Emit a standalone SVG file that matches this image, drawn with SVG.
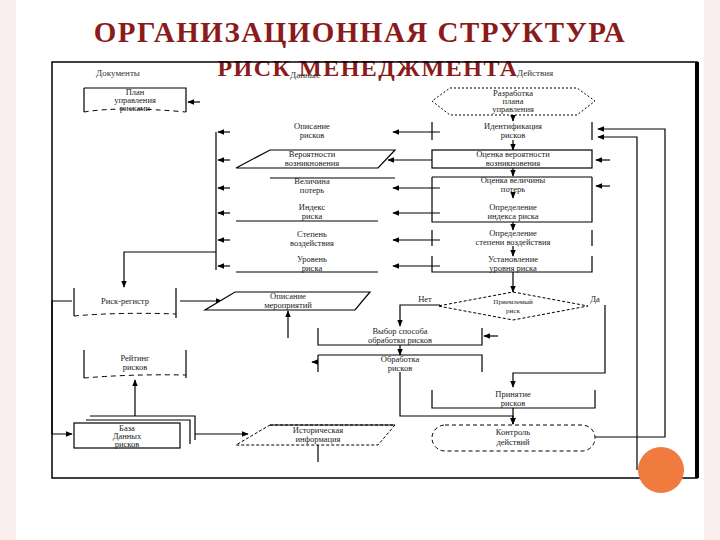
<svg xmlns="http://www.w3.org/2000/svg" width="720" height="540" viewBox="0 0 720 540">
<defs>
<marker id="a" viewBox="0 0 10 10" refX="9" refY="5" markerWidth="6" markerHeight="6" orient="auto"><path d="M0,1 L10,5 L0,9 z" fill="#000"/></marker>
<style>
.t{font-family:"Liberation Serif",serif;font-size:8.5px;text-anchor:middle;fill:#222}
.h{font-family:"Liberation Serif",serif;font-size:9px;text-anchor:middle;fill:#333}
.b{fill:#fff;stroke:#000;stroke-width:1.2}
.d{fill:#fff;stroke:#000;stroke-width:1;stroke-dasharray:5,4}
.l{fill:none;stroke:#000;stroke-width:1.2}
.la{fill:none;stroke:#000;stroke-width:1.2;marker-end:url(#a)}
.ttl{font-family:"Liberation Serif",serif;font-size:29px;font-weight:bold;fill:#8b1a1a;text-anchor:middle;letter-spacing:1.5px}
</style>
</defs>
<rect width="720" height="540" fill="#fff"/>
<rect x="0" y="0" width="16" height="540" fill="#fbeeee"/>
<rect x="704" y="0" width="16" height="540" fill="#fbeeee"/>
<text class="ttl" x="360" y="42">ОРГАНИЗАЦИОННАЯ СТРУКТУРА</text>
<text class="ttl" x="368" y="76" style="font-size:24px">РИСК МЕНЕДЖМЕНТА</text>
<rect x="52" y="62" width="645" height="416" fill="none" stroke="#000" stroke-width="1.5"/>
<line x1="697" y1="62" x2="697" y2="478" stroke="#000" stroke-width="4"/>
<text class="h" x="118" y="76">Документы</text>
<text class="h" x="305" y="78">Данные</text>
<text class="h" x="535" y="76">Действия</text>

<g id="connectors">
<line class="la" x1="513" y1="115" x2="513" y2="121"/>
<line class="la" x1="513" y1="140" x2="513" y2="150"/>
<line class="la" x1="513" y1="168" x2="513" y2="176"/>
<line class="la" x1="513" y1="192" x2="513" y2="198"/>
<line class="la" x1="513" y1="222" x2="513" y2="230"/>
<line class="la" x1="513" y1="246" x2="513" y2="256"/>
<line class="la" x1="513" y1="272" x2="513" y2="292"/>
<line class="la" x1="432" y1="160" x2="388" y2="160"/>
<line class="la" x1="200" y1="102" x2="188" y2="102"/>
<polyline class="l" points="216,132 216,270"/>
<line class="la" x1="230" y1="132" x2="218" y2="132"/>
<line class="la" x1="230" y1="160" x2="218" y2="160"/>
<line class="la" x1="230" y1="188" x2="218" y2="188"/>
<line class="la" x1="230" y1="213" x2="218" y2="213"/>
<line class="la" x1="230" y1="240" x2="218" y2="240"/>
<line class="la" x1="230" y1="266" x2="218" y2="266"/>
<line class="la" x1="440" y1="132" x2="393" y2="132"/>
<line class="la" x1="440" y1="188" x2="393" y2="188"/>
<line class="la" x1="440" y1="213" x2="393" y2="213"/>
<line class="la" x1="440" y1="240" x2="393" y2="240"/>
<line class="la" x1="440" y1="266" x2="393" y2="266"/>
<polyline class="la" points="216,252 124,252 124,287"/>
<line class="la" x1="180" y1="301" x2="222" y2="301"/>
<line class="la" x1="288" y1="338" x2="288" y2="311"/>
<polyline class="la" points="72,301 52,301 52,434 72,434"/>
<line class="la" x1="135" y1="416" x2="135" y2="380"/>
<line class="la" x1="195" y1="434" x2="248" y2="434"/>
<line class="l" x1="318" y1="445" x2="318" y2="462"/>
<polyline class="la" points="440,305 400,305 400,326"/>
<line class="la" x1="400" y1="345" x2="400" y2="355"/>
<polyline class="la" points="400,372 400,416 513,416 513,424"/>
<polyline class="la" points="605,305 605,373 513,373 513,387"/>
<line class="la" x1="513" y1="408" x2="513" y2="424"/>
<polyline class="la" points="595,437 665,437 665,129 598,129"/>
<polyline class="la" points="637,470 637,137 598,137"/>
<line class="la" x1="610" y1="160" x2="596" y2="160"/>
<line class="la" x1="610" y1="186" x2="596" y2="186"/>
<line class="la" x1="498" y1="336" x2="484" y2="336"/>
<line class="la" x1="318" y1="362" x2="312" y2="362"/>
</g>

<g id="plan"><path class="b" d="M84,88 H186 V112 M84,88 V112"/><path class="d" d="M84,112 Q120,106 186,112" fill="none"/><text class="t" x="135" y="95">План</text><text class="t" x="135" y="103">управления</text><text class="t" x="135" y="111">рисками</text></g>
<g id="hex"><polygon points="450,88 577,88 595,101 577,115 450,115 432,101" fill="#fff" stroke="#000" stroke-dasharray="2,2"/><text class="t" x="513" y="96">Разработка</text><text class="t" x="513" y="104">плана</text><text class="t" x="513" y="112">управления</text></g>

<g id="act1"><path class="l" d="M432,122 V140 M592,122 V140"/><text class="t" x="513" y="129">Идентификация</text><text class="t" x="513" y="138">рисков</text></g>
<g id="act2"><rect class="b" x="432" y="150" width="160" height="18"/><text class="t" x="513" y="157">Оценка вероятности</text><text class="t" x="513" y="166">возникновения</text></g>
<g id="act3"><path class="l" d="M432,177 H592 M432,177 V222 H592 V177"/><text class="t" x="513" y="183">Оценка величины</text><text class="t" x="513" y="192">потерь</text></g>
<g id="act4"><text class="t" x="513" y="210">Определение</text><text class="t" x="513" y="219">индекса риска</text></g>
<g id="act5"><path class="l" d="M432,230 V246 M592,230 V246"/><text class="t" x="513" y="236">Определение</text><text class="t" x="513" y="245">степени воздействия</text></g>
<g id="act6"><path class="l" d="M432,256 V272 H592 V256"/><text class="t" x="513" y="262">Установление</text><text class="t" x="513" y="271">уровня риска</text></g>

<g id="data1"><text class="t" x="312" y="129">Описание</text><text class="t" x="312" y="138">рисков</text></g>
<g id="data2"><polygon class="b" points="270,150 395,150 378,168 236,168"/><text class="t" x="312" y="157">Вероятности</text><text class="t" x="312" y="166">возникновения</text></g>
<g id="data3"><path class="l" d="M270,178 H395"/><text class="t" x="312" y="184">Величина</text><text class="t" x="312" y="193">потерь</text></g>
<g id="data4"><path class="l" d="M236,221 H378"/><text class="t" x="312" y="210">Индекс</text><text class="t" x="312" y="219">риска</text></g>
<g id="data5"><text class="t" x="312" y="237">Степень</text><text class="t" x="312" y="246">воздействия</text></g>
<g id="data6"><path class="l" d="M236,272 H378"/><text class="t" x="312" y="262">Уровень</text><text class="t" x="312" y="271">риска</text></g>

<g id="registry"><path class="l" d="M74,288 V316 M176,288 V318" /><path class="d" d="M74,316 Q120,312 176,314" fill="none"/><text class="t" x="125" y="304">Риск-регистр</text></g>
<g id="measures"><polygon class="b" points="235,292 370,292 355,310 205,310"/><text class="t" x="288" y="299">Описание</text><text class="t" x="288" y="308">мероприятий</text></g>
<g id="rating"><path class="l" d="M84,350 V378 M186,350 V378"/><path class="d" d="M84,378 Q130,374 186,375" fill="none"/><text class="t" x="135" y="361">Рейтинг</text><text class="t" x="135" y="370">рисков</text></g>
<g id="db"><path class="l" d="M90,416 H195 V440 M86,420 H190 V444"/><rect class="b" x="74" y="423" width="106" height="25"/><text class="t" x="127" y="431">База</text><text class="t" x="127" y="439">Данных</text><text class="t" x="127" y="447">рисков</text></g>
<g id="hist"><polygon points="270,425 395,425 378,445 236,445" fill="#fff" stroke="#000" stroke-dasharray="3,2"/><path class="l" d="M270,425 H395"/><text class="t" x="318" y="433">Историческая</text><text class="t" x="318" y="442">информация</text></g>

<g id="diamond"><polygon points="513,292 588,306 513,320 438,306" fill="#fff" stroke="#000" stroke-dasharray="3,2"/><text class="t" x="513" y="304" style="font-size:7px">Приемлемый</text><text class="t" x="513" y="313" style="font-size:7px">риск</text><text class="t" x="425" y="302">Нет</text><text class="t" x="595" y="302">Да</text></g>
<g id="choose"><path class="l" d="M318,328 V345 H482 V328"/><text class="t" x="400" y="334">Выбор способа</text><text class="t" x="400" y="343">обработки рисков</text></g>
<g id="process"><path class="l" d="M318,355 H482 V372 M318,355 V372"/><text class="t" x="400" y="362">Обработка</text><text class="t" x="400" y="371">рисков</text></g>
<g id="accept"><path class="l" d="M432,390 V408 H595 V390"/><text class="t" x="513" y="397">Принятие</text><text class="t" x="513" y="406">рисков</text></g>
<g id="control"><rect x="432" y="425" width="163" height="26" rx="13" fill="#fff" stroke="#000" stroke-dasharray="4,3"/><text class="t" x="513" y="435">Контроль</text><text class="t" x="513" y="445">действий</text></g>
<circle cx="661" cy="470" r="23" fill="#f07b3f"/>
</svg>
